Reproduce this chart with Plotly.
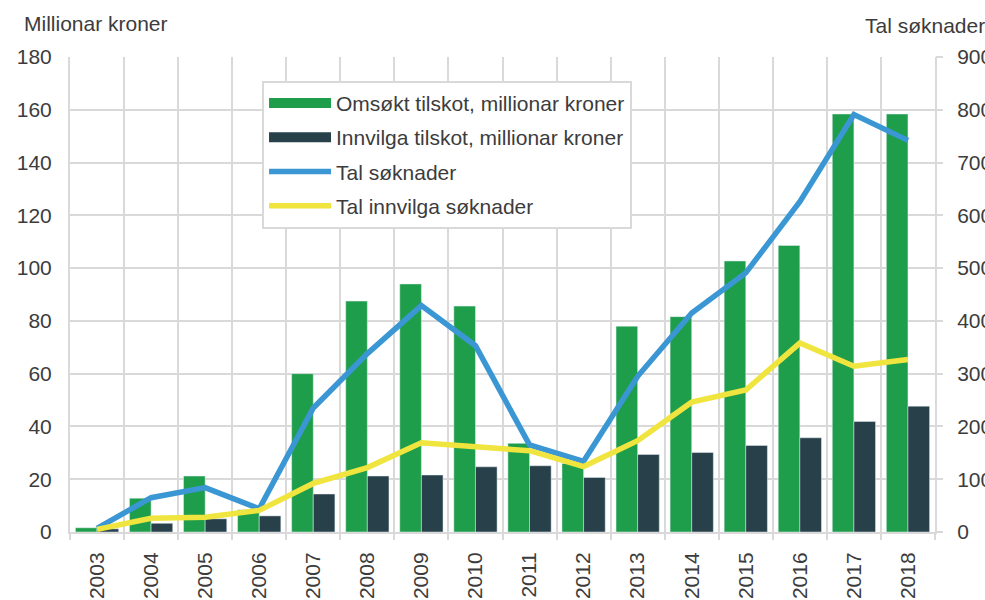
import plotly.graph_objects as go

years = ["2003", "2004", "2005", "2006", "2007", "2008", "2009", "2010",
         "2011", "2012", "2013", "2014", "2015", "2016", "2017", "2018"]

# Million NOK (left axis)
omsokt = [1.6, 12.8, 21.2, 8.4, 60.0, 87.5, 94.0, 85.6,
          33.6, 26.0, 78.0, 81.6, 102.7, 108.6, 158.4, 158.4]
innvilga = [1.2, 3.3, 5.0, 6.1, 14.4, 21.2, 21.6, 24.7,
            25.1, 20.7, 29.4, 30.1, 32.8, 35.7, 41.9, 47.7]

# Number of applications (right axis)
tal_soknader = [7, 65, 84, 44, 235, 338, 429, 353,
                165, 134, 295, 415, 491, 626, 791, 742]
tal_innvilga = [5, 26, 28, 41, 92, 122, 169, 162,
                154, 124, 173, 246, 269, 358, 314, 327]

GREEN = "#1e9e4a"
DARK = "#274049"
BLUE = "#3a97d4"
YELLOW = "#f0e43e"
GRID = "#d9d9d9"
TEXT = "#3c3c3c"
FONT = "Liberation Sans, Arial, sans-serif"
FS = 21

xpos = list(range(len(years)))
boundaries = [i - 0.5 for i in range(len(years) + 1)]

fig = go.Figure()

fig.add_trace(go.Bar(x=xpos, y=omsokt, marker_color=GREEN, showlegend=False,
                     name="Omsøkt tilskot, millionar kroner"))
fig.add_trace(go.Bar(x=xpos, y=innvilga, marker_color=DARK, showlegend=False,
                     name="Innvilga tilskot, millionar kroner"))

# Legend proxies giving the bar series a wide rectangular swatch
fig.add_trace(go.Scatter(x=[None], y=[None], mode="lines",
                         line=dict(color=GREEN, width=10),
                         name="Omsøkt tilskot, millionar kroner", legendgroup="a"))
fig.add_trace(go.Scatter(x=[None], y=[None], mode="lines",
                         line=dict(color=DARK, width=10),
                         name="Innvilga tilskot, millionar kroner", legendgroup="b"))

fig.add_trace(go.Scatter(x=xpos, y=tal_soknader, mode="lines", yaxis="y2",
                         line=dict(color=BLUE, width=5.5),
                         name="Tal søknader", legendgroup="c"))
fig.add_trace(go.Scatter(x=xpos, y=tal_innvilga, mode="lines", yaxis="y2",
                         line=dict(color=YELLOW, width=5.5),
                         name="Tal innvilga søknader", legendgroup="d"))

fig.update_layout(
    width=985, height=600,
    margin=dict(l=70, r=50, t=57, b=68),
    paper_bgcolor="white", plot_bgcolor="white",
    font=dict(family=FONT, size=FS, color=TEXT),
    barmode="group", bargap=0.2, bargroupgap=0,
    showlegend=True,
    legend=dict(x=0.222, y=0.95, xanchor="left", yanchor="top",
                bgcolor="white", bordercolor=GRID, borderwidth=2,
                font=dict(family=FONT, size=FS, color=TEXT),
                itemwidth=62,
                tracegroupgap=4, traceorder="grouped"),
    xaxis=dict(
        range=[-0.5, 15.5], automargin=False,
        tickmode="array", tickvals=xpos, ticktext=years, tickangle=-90,
        ticks="", showgrid=False, zeroline=False,
        showline=True, linecolor=GRID, linewidth=2,
        ticklabelstandoff=10,
        minor=dict(tickmode="array", tickvals=boundaries, showgrid=True,
                   gridcolor=GRID, gridwidth=2, ticks="outside", ticklen=6,
                   tickcolor=GRID, tickwidth=2),
    ),
    yaxis=dict(
        range=[0, 180], dtick=20, showgrid=True, gridcolor=GRID, gridwidth=2,
        zeroline=False, showline=True, linecolor=GRID, linewidth=2, mirror=True,
        ticks="", ticklabelstandoff=12, automargin=False,
    ),
    yaxis2=dict(
        range=[0, 900], dtick=100, overlaying="y", side="right",
        showgrid=False, zeroline=False, showline=False,
        ticks="outside", ticklen=7, tickwidth=2, tickcolor=GRID,
        ticklabelstandoff=10, automargin=False,
    ),
    annotations=[
        dict(text="Millionar kroner", xref="paper", yref="paper",
             x=(22 - 70) / 865, y=(532 - 24) / 475, xanchor="left", yanchor="middle",
             showarrow=False, font=dict(family=FONT, size=FS, color=TEXT)),
        dict(text="Tal søknader", xref="paper", yref="paper",
             x=(863 - 70) / 865, y=(532 - 25) / 475, xanchor="left", yanchor="middle",
             showarrow=False, font=dict(family=FONT, size=FS, color=TEXT)),
    ],
)

fig.write_html("out.html")
